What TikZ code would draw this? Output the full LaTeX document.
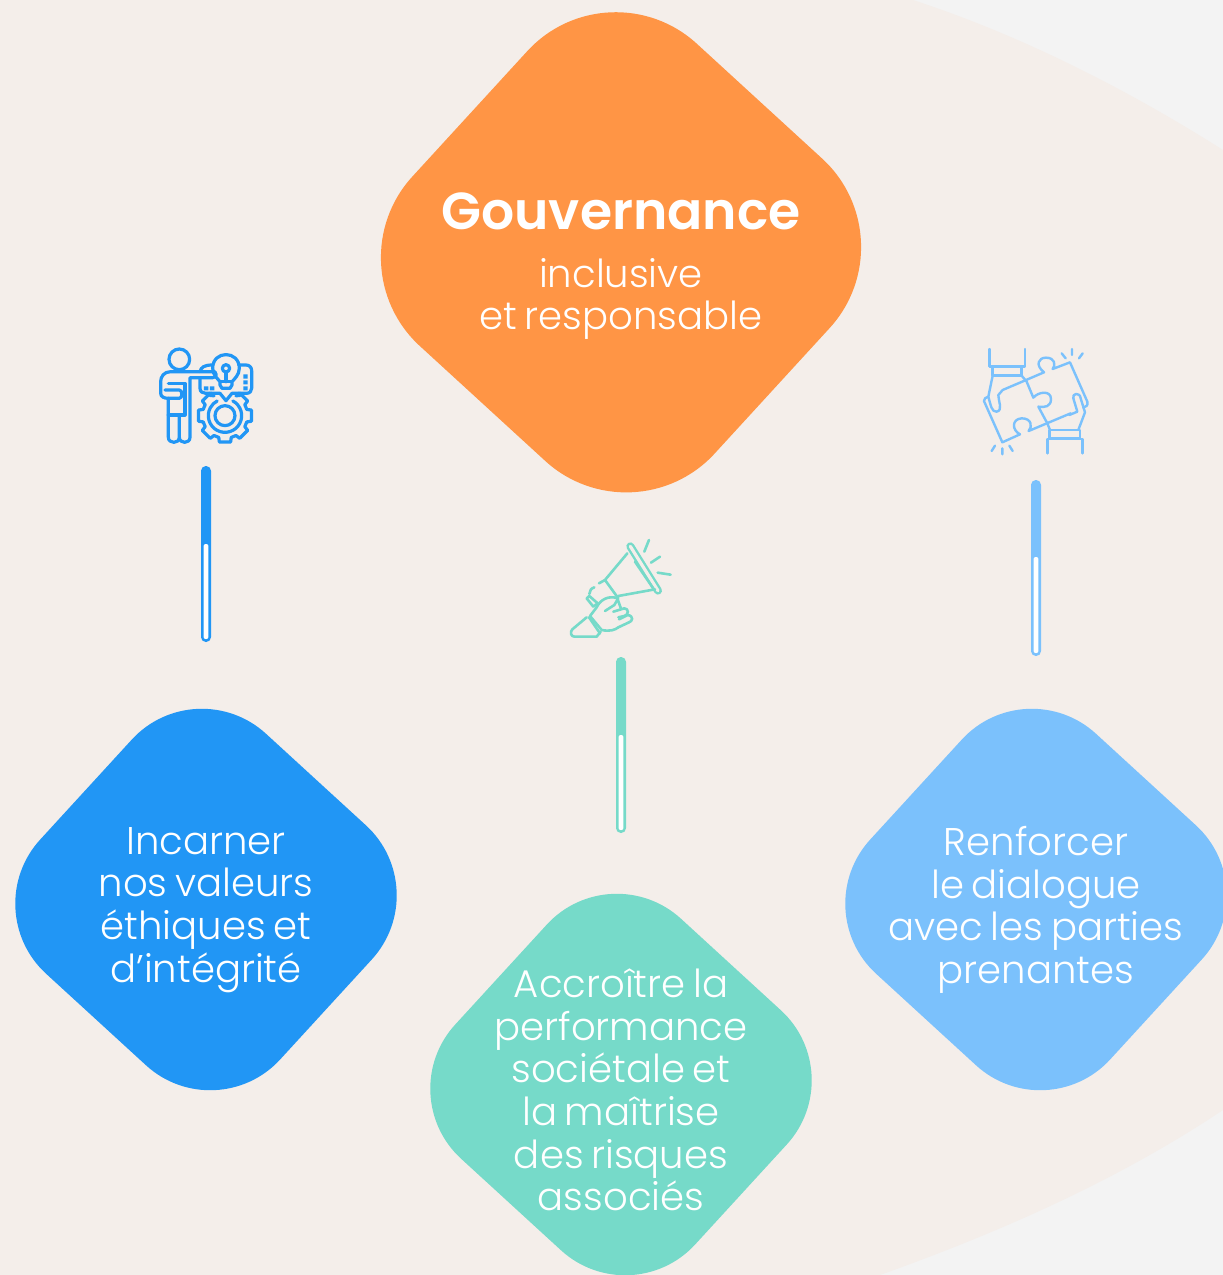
\documentclass[tikz,border=0pt]{standalone}
\usepackage{fontspec}
\setmainfont{Poppins Light}[BoldFont={Poppins SemiBold},WordSpace=0.72]
\definecolor{bgbeige}{HTML}{F4EEEA}
\definecolor{bgcorner}{HTML}{F3F3F3}
\definecolor{cOrange}{HTML}{FF9545}
\definecolor{cBlue}{HTML}{2196F5}
\definecolor{cSky}{HTML}{7BC1FC}
\definecolor{cTeal}{HTML}{76DAC9}
\tikzset{
  bigshape/.style={minimum size=410pt,rounded corners=120pt,rotate=47.5,inner sep=0pt},
  smallshape/.style={minimum size=325.5pt,rounded corners=95pt,rotate=47.5,inner sep=0pt},
  lbl/.style={text=white,align=center,font=\fontsize{38.6}{42.7}\selectfont,inner sep=0pt},
  iconline/.style={line width=#1,line cap=round,line join=round,x=0.3333pt,y=-0.3333pt},
}
\newcommand{\gaugebar}[4]{% x, top, split, colour
  \fill[#4,rounded corners=4.8pt] (#1-5,#2) rectangle (#1+5,#2+176);
  \fill[white,rounded corners=2pt] (#1-2.4,#3) rectangle (#1+2.4,#2+173);
}
\begin{document}
\begin{tikzpicture}[x=1pt,y=-1pt]
\useasboundingbox (0,0) rectangle (1223,1275);
\fill[bgcorner] (0,0) rectangle (1223,1275);
\fill[bgbeige] (0,0) -- (913,0) .. controls (1020,35) and (1125,88) .. (1223,150)
  -- (1223,1110) .. controls (1130,1172) and (1020,1225) .. (880,1275) -- (0,1275) -- cycle;
\begin{scope}
\clip (0,0) rectangle (1223,1275);
\node[bigshape,fill=cOrange] (gov) at (621,252.3) {};
\node[smallshape,fill=cBlue] (inc) at (206,899.5) {};
\node[smallshape,fill=cSky] (ren) at (1036,899.5) {};
\node[smallshape,fill=cTeal] (acc) at (621,1084.5) {};
\end{scope}
\node[text=white,inner sep=0pt,font=\fontsize{52}{54}\selectfont\bfseries] (govt) at (621,211) {Gouvernance};
\node[lbl] (govs) at (621,299) {inclusive\\et responsable};
\node[lbl] (inct) at (206,910) {Incarner\\nos valeurs\\éthiques et\\d’intégrité};
\node[lbl] (rent) at (1036,910) {Renforcer\\le dialogue\\avec les parties\\prenantes};
\node[lbl] (acct) at (621,1090) {Accroître la\\performance\\sociétale et\\la maîtrise\\des risques\\associés};
\gaugebar{206}{466}{544}{cBlue}
\gaugebar{621}{657}{735}{cTeal}
\gaugebar{1036}{480}{557}{cSky}
% --- icon 1: person and gear
\begin{scope}[shift={(140,330)},iconline=3.2pt,color=cBlue]
\draw (118,88) circle[radius=31];
\draw (225,125) -- (92,125) .. controls (72,125) and (62,140) .. (62,155) -- (62,190) .. controls (62,200) and (72,205) .. (85,205)
  -- (85,322) .. controls (85,342) and (118,342) .. (118,322) -- (118,255);
\draw (118,322) .. controls (118,342) and (150,342) .. (150,322) -- (150,143) -- (218,143) .. controls (232,143) and (232,125) .. (218,125);
\draw (85,160) -- (135,160) -- (135,255) -- (85,255);
\draw (75,180) -- (118,180) .. controls (128,180) and (128,205) .. (118,205) -- (85,205);
\draw (180,143) -- (180,175) .. controls (180,185) and (188,190) .. (197,190) -- (240,190) -- (258,212) -- (276,190) -- (320,190) .. controls (330,190) and (335,182) .. (335,175) -- (335,122) .. controls (335,112) and (328,105) .. (318,105) -- (296,105);
\draw (180,125) .. controls (183,112) and (192,105) .. (218,105);
\draw (240,165) -- (240,155) .. controls (235,148) and (218,135) .. (218,115) .. controls (218,60) and (298,60) .. (298,115) .. controls (298,135) and (282,148) .. (276,155) -- (276,165) -- (270,175) -- (246,175) -- cycle;
\draw (258,115) circle[radius=11];
\draw (258,126) -- (258,155) (240,155) -- (276,155);
\fill (192,169) rectangle (205,181) (210,169) rectangle (223,181) (310,133) rectangle (323,146) (310,151) rectangle (323,163) (310,169) rectangle (323,181);
\draw (301,196) \foreach \a in {-45,0,45,90,135,180,225} {
  -- ([shift={(255,257)}]\a-16:68) -- ([shift={(255,257)}]\a-12:81) -- ([shift={(255,257)}]\a+12:81) -- ([shift={(255,257)}]\a+16:68) } -- (209,196);
\draw (255,257) circle[radius=30];
\draw (255,257) ++(-62:50) arc[start angle=-62,delta angle=304,radius=50];
\end{scope}
% --- icon 2: jigsaw and hands
\begin{scope}[shift={(970,335)},iconline=2.4pt,color=cSky]
\draw (58,42) -- (58,95) -- (165,95) -- (165,42);
\draw (68,95) -- (68,122) -- (155,122) -- (155,95);
\draw (68,122) -- (55,185) .. controls (62,210) and (65,232) .. (80,230) .. controls (100,225) and (85,200) .. (85,180) -- (98,165) -- (222,112)
  .. controls (195,90) and (205,68) .. (228,68) .. controls (255,68) and (258,90) .. (248,102) -- (300,82) -- (352,200) .. controls (355,212) and (348,215) .. (340,218);
\draw (155,122) -- (170,140) -- (190,188) .. controls (205,170) and (243,165) .. (243,192) .. controls (243,215) and (225,218) .. (205,215) -- (232,265) -- (240,285);
\draw (55,185) -- (45,190) .. controls (40,195) and (42,203) .. (45,205) -- (97,322) -- (150,298) .. controls (125,285) and (125,252) .. (155,250) .. controls (185,250) and (188,275) .. (176,288) -- (302,235);
\draw (310,190) .. controls (305,175) and (330,170) .. (332,190) -- (345,232) -- (325,285);
\draw (310,190) -- (322,230) -- (298,240);
\draw (238,285) -- (330,285) -- (330,310) -- (238,310) -- cycle;
\draw (232,355) -- (232,312) -- (338,312) -- (338,355);
\draw (275,55) -- (287,70) (306,42) -- (306,60) (338,55) -- (327,70);
\draw (75,332) -- (65,348) (97,340) -- (97,358) (118,332) -- (128,348);
\end{scope}
% --- icon 3: megaphone
\begin{scope}[shift={(555,530)},iconline=2.6pt,color=cTeal]
\draw[line width=8pt] (226,49) -- (309,182);
\draw[line width=3.2pt,bgbeige] (226,49) -- (309,182);
\draw (240,95) -- (298,180);
\draw (217,70) -- (150,150) -- (132,160);
\draw (300,178) -- (190,198);
\draw (150,150) -- (190,205);
\draw (282,30) -- (268,65) (315,80) -- (288,98) (308,128) -- (347,134);
\draw (118,172) .. controls (108,175) and (104,182) .. (103,192);
\draw (95,205) -- (103,198) -- (128,220) -- (115,230) -- cycle;
\draw (188,205) .. controls (160,195) and (135,210) .. (125,232) -- (105,258);
\draw (95,262) -- (52,298) .. controls (45,305) and (47,320) .. (58,320) -- (125,320) -- (137,305);
\draw (105,258) -- (140,300) .. controls (165,305) and (180,300) .. (190,292);
\draw (102,262) -- (135,310);
\draw (150,243) -- (178,225) -- (188,208) -- (198,236);
\draw (175,245) -- (208,235) .. controls (222,235) and (222,255) .. (208,258) -- (190,262);
\draw (192,268) -- (218,255) .. controls (238,258) and (232,275) .. (222,277) -- (190,292);
\end{scope}
\end{tikzpicture}
\end{document}
